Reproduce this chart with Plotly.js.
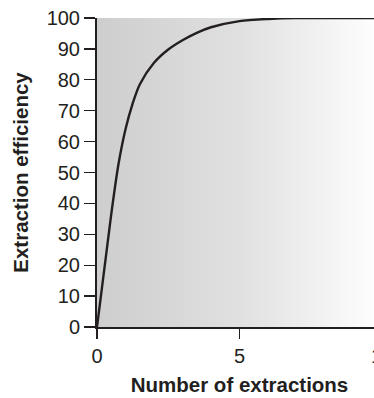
<!DOCTYPE html>
<html>
<head>
<meta charset="utf-8">
<script src="https://cdn.plot.ly/plotly-3.0.1.min.js"></script>
<style>
html,body{margin:0;padding:0;overflow:hidden;background:#fff;width:374px;height:398px;}
#chart{width:400px;height:398px;}
</style>
</head>
<body>
<div id="chart"></div>
<script>
// Data
const extractions = [0, 0.5, 0.75, 1, 1.25, 1.5, 2, 2.5, 3, 3.5, 4, 5, 6, 7, 8, 9, 10];
const efficiency  = [0, 36.5, 52.5, 64, 72.3, 78.5, 85.5, 89.8, 92.8, 95.2, 97.0, 99.0, 99.7, 100, 100, 100, 100];
const xTicks = [0, 5, 10];
const yTicks = [0, 10, 20, 30, 40, 50, 60, 70, 80, 90, 100];
const xRange = [0, 10];
const yRange = [0, 100];

const bg = {
  x: [xRange[0], xRange[1], xRange[1], xRange[0], xRange[0]],
  y: [yRange[0], yRange[0], yRange[1], yRange[1], yRange[0]],
  mode: 'none', fill: 'toself', hoverinfo: 'skip', showlegend: false,
  fillgradient: {type: 'horizontal', colorscale: [[0, '#cecece'], [0.5, '#e0e0e0'], [1, '#ffffff']]}
};
const curve = {
  x: extractions, y: efficiency, mode: 'lines',
  line: {color: '#231f20', width: 2.4, shape: 'spline', smoothing: 0.8},
  showlegend: false
};
const tickFont = {family: 'Liberation Sans, Arial, sans-serif', size: 20, color: '#231f20'};
const titleFont = {family: 'Liberation Sans, Arial, sans-serif', size: 20.5, color: '#231f20', weight: 'bold'};
const layout = {
  width: 400, height: 398,
  margin: {l: 96.5, r: 17.5, t: 17.5, b: 71.3, pad: 0},
  paper_bgcolor: '#ffffff', plot_bgcolor: '#ffffff',
  xaxis: {
    range: xRange, tickvals: xTicks, ticktext: xTicks.map(String),
    showgrid: false, zeroline: false, showline: true, linecolor: '#231f20', linewidth: 2,
    ticks: 'outside', ticklen: 10, tickwidth: 1.3, tickcolor: '#231f20',
    tickfont: tickFont,
    title: {text: 'Number of extractions', font: titleFont, standoff: 12}
  },
  yaxis: {
    range: yRange, tickvals: yTicks,
    showgrid: false, zeroline: false, showline: true, linecolor: '#231f20', linewidth: 2,
    ticks: 'outside', ticklen: 11, tickwidth: 1.3, tickcolor: '#231f20',
    tickfont: tickFont,
    title: {text: 'Extraction efficiency', font: titleFont, standoff: 12}
  }
};
Plotly.newPlot('chart', [bg, curve], layout, {displayModeBar: false, staticPlot: true});
</script>
</body>
</html>
